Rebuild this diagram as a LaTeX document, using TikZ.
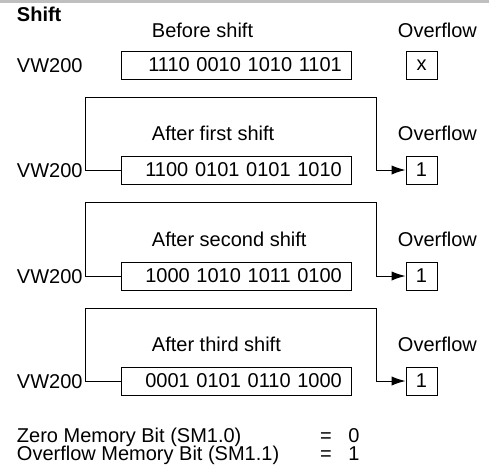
\documentclass[tikz,border=0pt]{standalone}
\usepackage{fontspec}
\setmainfont{Liberation Sans}
\usetikzlibrary{arrows.meta}
\begin{document}
\begin{tikzpicture}[x=0.75pt,y=-0.75pt,line width=0.75pt,
  every node/.style={font=\fontsize{15}{15}\selectfont},
  regbox/.style={draw,minimum height=21pt,text width=158pt,align=right,inner xsep=7.5pt,inner ysep=0pt},
  ovfbox/.style={draw,minimum width=23.25pt,minimum height=21pt,inner sep=0pt},
  feed/.style={-{Latex[length=10.5pt,width=7pt]}}]
\useasboundingbox (0,0) rectangle (489,465);
\fill[black!25] (0,0) rectangle (489,3);
\node[anchor=base west,font=\fontsize{15}{15}\selectfont\bfseries] (title) at (12,21) {Shift};
% before shift
\node[anchor=base west] (lab0) at (147,37) {Before shift};
\node[anchor=base west] (ovl0) at (393,37) {Overflow};
\node[anchor=base west] (vw0) at (12,72) {VW200};
\node[regbox] (reg0) at (236.5,65) {1110 0010 1010 1101};
\node[ovfbox] (ovf0) at (421.5,65) {x};
% first shift
\node[anchor=base west] (lab1) at (147,140) {After first shift};
\node[anchor=base west] (ovl1) at (393,140) {Overflow};
\node[anchor=base west] (vw1) at (12,177) {VW200};
\node[regbox] (reg1) at (236.5,170) {1100 0101 0101 1010};
\node[ovfbox] (ovf1) at (421.5,170) {1};
\coordinate (up1) at (85,97);
\coordinate (down1) at (376,97);
\draw[feed] (reg1.west) -| (up1) -- (down1) |- (ovf1.west);
% second shift
\node[anchor=base west] (lab2) at (147,246) {After second shift};
\node[anchor=base west] (ovl2) at (393,246) {Overflow};
\node[anchor=base west] (vw2) at (12,283) {VW200};
\node[regbox] (reg2) at (236.5,276) {1000 1010 1011 0100};
\node[ovfbox] (ovf2) at (421.5,276) {1};
\coordinate (up2) at (85,202);
\coordinate (down2) at (376,202);
\draw[feed] (reg2.west) -| (up2) -- (down2) |- (ovf2.west);
% third shift
\node[anchor=base west] (lab3) at (147,351) {After third shift};
\node[anchor=base west] (ovl3) at (393,351) {Overflow};
\node[anchor=base west] (vw3) at (12,388) {VW200};
\node[regbox] (reg3) at (236.5,381) {0001 0101 0110 1000};
\node[ovfbox] (ovf3) at (421.5,381) {1};
\coordinate (up3) at (85,308);
\coordinate (down3) at (376,308);
\draw[feed] (reg3.west) -| (up3) -- (down3) |- (ovf3.west);
% memory bits
\node[anchor=base west] (zero) at (12,442) {Zero Memory Bit (SM1.0)};
\node[anchor=base] (zeroeq) at (326,442) {=};
\node[anchor=base] (zeroval) at (354,442) {0};
\node[anchor=base west] (over) at (12,460) {Overflow Memory Bit (SM1.1)};
\node[anchor=base] (overeq) at (326,460) {=};
\node[anchor=base] (overval) at (354,460) {1};
\end{tikzpicture}
\end{document}
